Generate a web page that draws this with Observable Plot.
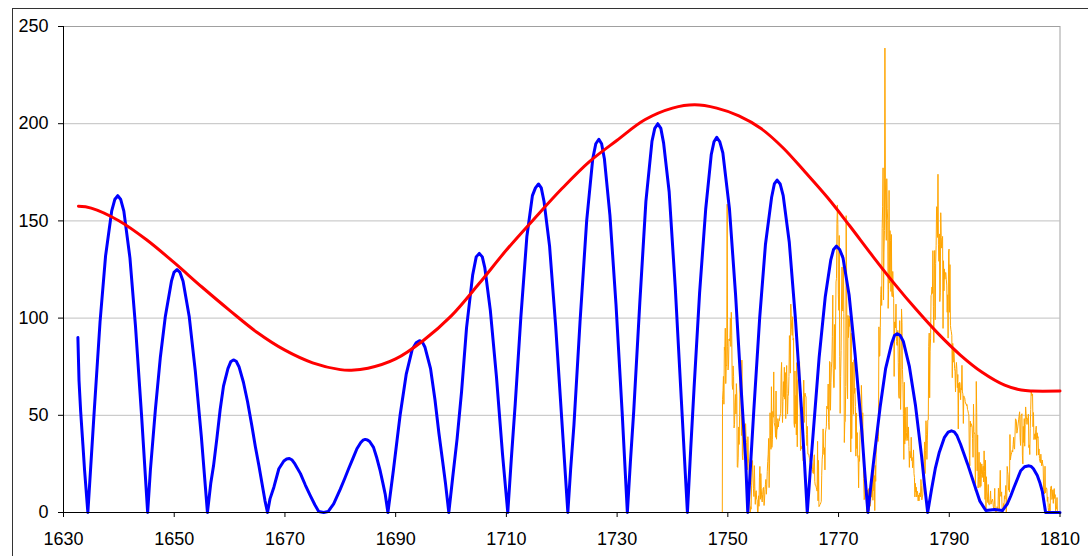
<!DOCTYPE html>
<html><head><meta charset="utf-8">
<script src="https://cdn.jsdelivr.net/npm/d3@7"></script>
<script src="https://cdn.jsdelivr.net/npm/@observablehq/plot@0.6"></script>
<style>
html,body{margin:0;padding:0;background:#fff;overflow:hidden;}
#wrap{position:relative;width:1088px;height:556px;}
#border{position:absolute;left:12px;top:8px;width:1090px;height:560px;border:1px solid #333;box-sizing:border-box;}
#chart{position:absolute;left:0;top:0;}
</style></head><body>
<div id="wrap"><div id="border"></div><div id="chart"></div></div>
<script>
const xTicks = [1630,1650,1670,1690,1710,1730,1750,1770,1790,1810];
const yTicks = [0,50,100,150,200,250];

// blue: rectified cycle curve
const blueYear = [1632.6,1632.8,1633.1,1633.5,1633.8,1634.4,
1635.5,1636.6,1637.6,1638.7,1639.26,1639.8,1640.34,1640.9,1642.0,1643.0,1644.1,1645.2,
1645.7,1646.6,1647.5,1648.4,1649.5,1649.96,1650.5,1651.04,1651.6,1652.7,1653.8,1654.9,1656.0,
1656.6,1657.1,1657.7,1658.3,1658.9,1659.7,1660.2,1660.7,1661.2,1661.7,1662.5,1663.25,1664.0,1664.65,1665.3,1665.85,1666.4,1666.85,
1667.3,1668.0,1668.9,1669.8,1670.3,1670.8,1671.3,1671.8,1672.8,1673.7,1674.6,1675.4,1676.1,1677.0,1677.8,
1678.8,1680.0,1680.8,1681.5,1682.3,1683.0,1683.7,1684.1,1684.5,1684.9,1685.3,1686.0,1686.6,1687.2,1687.7,1688.1,1688.6,
1689.6,1690.8,1691.9,1693.0,1693.7,1694.3,1694.85,1695.3,1696.3,1697.1,1697.8,1698.5,1699.0,1699.6,
1700.3,1701.1,1701.9,1702.8,1703.9,1704.55,1705.1,1705.65,1706.1,1707.1,1708.2,1709.3,1710.25,
1710.9,1711.6,1712.6,1713.7,1714.7,1715.25,1715.8,1716.3,1716.8,1717.8,1718.9,1720.0,1721.1,
1721.6,1722.2,1723.3,1724.5,1725.6,1726.15,1726.7,1727.2,1727.7,1728.7,1729.8,1730.9,1731.85,
1732.4,1733.0,1734.1,1735.2,1736.3,1736.8,1737.35,1737.9,1738.4,1739.4,1740.5,1741.6,1742.7,
1743.3,1743.9,1744.9,1746.0,1747.0,1747.5,1748.0,1748.55,1749.1,1750.3,1751.4,1752.4,1753.2,1753.6,
1754.2,1754.7,1755.75,1756.8,1757.9,1758.4,1758.9,1759.45,1760.0,1761.1,1762.2,1763.3,1763.8,1764.35,
1764.9,1765.45,1766.5,1767.6,1768.6,1769.1,1769.6,1770.2,1770.8,1771.9,1773.0,1774.2,1774.7,1775.3,
1775.8,1776.4,1777.5,1778.5,1779.6,1780.1,1780.6,1781.15,1781.7,1782.8,1783.9,1785.0,1785.5,1786.1,
1786.8,1787.5,1788.2,1789.1,1789.8,1790.4,1790.9,1791.4,1792.05,1793.3,1794.5,1795.5,1796.6,1798.2,1799.6,
1800.5,1801.1,1801.7,1802.9,1803.6,1804.0,1804.4,1804.8,1805.2,1805.9,1806.4,1806.8,1807.4,1810];
const blueValue = [90,68,52,35,22,0,
50,98,132,155,161,163,161,155,131,96,50,0,
22,53,80,101,119,123.5,125,123.5,119,101,73,39,0,
15,24,38,53,65,74,77.5,78.5,77.8,75,67,57,45,34,24,15,6,0,
7,13,22.5,26.5,27.5,27.8,27,25,20,14,8.6,4,0.5,0,0.5,
4.4,12,17.5,22.5,28,32.8,36,37.2,37.6,37.3,36.5,33.5,28,21.5,15,9.6,0,
22,50,71,84,87.3,88.4,87.5,85,74,58,41,26,15,0,
18,38,62,95,122,131.5,133.3,131.5,126,104,70,30,0,
28,56,100,142,163,167,169,167,160,137,96,48,0,
22,45,98,150,182,189.7,192,189.7,182,153,107,52,0,
26,52,108,160,191,197.6,200,197.6,190,165,116,58,0,
33,64,113,156,184,190.7,193,190.7,185,156,112,64,28,0,
29,53,100,138,162,169,171,169,163,139,100,53,28,0,
22,42,80,111,130,135.3,137,135.3,131,112,81,42,22,0,
13,28,54,74,87,91,92,91,88,75,55,29,15,0,
12,23,31,38.5,41.3,42,41.5,39.5,35,25,14.6,6,1,1.5,1,
4.5,8.5,13,21.5,23.5,23.8,24,23.7,22.5,19,15,11,0,0];

// red: smooth envelope
const redYear = [1632.7,1635,1640,1645,1650,1655,1660,1665,1670,1675,1680,1682,1685,1690,1695,1700,1705,1710,1715,1720,1725,1730,1735,1740,1744,1748,1752,1756,1760,1764,1768,1772,1776,1780,1784,1788,1792,1796,1800,1803,1805,1810];
const redValue = [157.5,156.6,150.1,140.3,128.5,116,104,92.6,83.5,77,73.5,73.2,74.2,79,88.5,101,117.5,135,151,166.5,180.5,191.5,202,208,209.7,208,204,197.5,187.5,175,162,147.5,132.5,118,104.5,92,81,72,65.5,63,62.5,62.5];

// orange: monthly sunspot numbers from 1749
const orangeStart = 1749;
const orangeMonthly = [
58.0,62.6,70.0,55.7,85.0,83.5,94.8,66.3,75.9,75.5,158.6,85.2,
73.3,75.9,89.2,88.3,90.0,100.0,85.4,103.0,91.2,65.7,63.3,75.4,
70.0,43.5,45.3,56.4,60.7,50.7,66.3,59.8,23.5,23.2,28.5,44.0,
35.0,50.0,71.0,59.3,59.7,39.6,78.4,29.3,27.1,46.6,37.6,40.0,
44.0,32.0,45.7,38.0,36.0,31.7,22.0,39.0,28.0,25.0,20.0,6.7,
0.0,3.0,1.7,13.7,20.7,26.7,18.8,12.3,8.2,24.1,13.2,4.2,
10.2,11.2,6.8,6.5,0.0,0.0,8.6,3.2,17.8,23.7,6.8,20.0,
12.5,7.1,5.4,9.4,12.5,12.9,3.6,6.4,11.8,14.3,17.0,9.4,
14.1,21.2,26.2,30.0,38.1,12.8,25.0,51.3,39.7,32.5,64.7,33.5,
37.6,52.0,49.0,72.3,46.4,45.0,44.0,38.7,62.5,37.7,43.0,43.0,
48.3,44.0,46.8,47.0,49.0,50.0,51.0,71.3,77.2,59.7,46.3,57.0,
67.3,59.5,74.7,58.3,72.0,48.3,66.0,75.6,61.3,50.6,59.7,61.0,
70.0,91.0,80.7,71.7,107.2,99.3,94.1,91.1,100.7,88.7,89.7,46.0,
43.8,72.8,45.7,60.2,39.9,77.1,33.8,67.7,68.5,69.3,77.8,77.2,
56.5,31.9,34.2,32.9,32.7,35.8,54.2,26.5,68.1,46.3,60.9,61.4,
59.7,59.7,40.2,34.4,44.3,30.0,30.0,30.0,28.2,28.0,26.0,25.7,
24.0,26.0,25.0,22.0,20.2,20.0,27.0,29.7,16.0,14.0,14.0,13.0,
12.0,11.0,36.6,6.0,26.8,3.0,3.3,4.0,4.3,5.0,5.7,19.2,
27.4,30.0,43.0,32.9,29.8,33.3,21.9,40.9,42.7,44.1,54.7,53.3,
53.5,66.1,46.3,42.7,77.7,77.4,52.6,66.8,74.8,77.8,90.6,111.8,
73.9,64.2,64.3,96.7,73.6,94.4,118.6,120.3,148.8,158.2,148.1,112.0,
104.0,142.5,80.1,51.0,70.1,83.3,109.8,126.3,104.4,103.6,132.2,102.3,
36.0,46.2,46.7,64.9,152.7,119.5,67.7,58.5,101.4,90.0,99.7,95.7,
100.9,90.8,31.1,92.2,38.0,57.0,77.3,56.2,50.5,78.6,61.3,64.0,
54.6,29.0,51.2,32.9,41.1,28.4,27.7,12.7,29.3,26.3,40.9,43.2,
46.8,65.4,55.7,43.8,51.3,28.5,17.5,6.6,7.9,14.0,17.7,12.2,
4.4,0.0,11.6,11.2,3.9,12.3,1.0,7.9,3.2,5.6,15.1,7.9,
21.7,11.6,6.3,21.8,11.2,19.0,1.0,24.2,16.0,30.0,35.0,40.0,
45.0,36.5,39.0,95.5,80.3,80.7,95.0,112.0,116.2,106.5,146.0,157.3,
177.3,109.3,134.0,145.0,238.9,171.6,153.0,140.0,171.7,156.3,150.3,105.0,
114.7,165.7,118.0,145.0,140.0,113.7,143.0,112.0,111.0,124.0,114.0,110.0,
70.0,98.0,98.0,95.0,107.2,88.0,86.0,86.0,93.7,77.0,60.0,58.7,
98.7,74.7,53.0,68.3,104.7,97.7,73.5,66.0,51.0,27.3,67.0,35.2,
54.0,37.5,37.0,41.0,54.3,38.0,37.0,44.0,34.0,23.2,31.5,30.0,
28.0,38.7,26.7,28.3,23.0,25.2,32.2,20.0,18.0,8.0,15.0,10.5,
13.0,8.0,11.0,10.0,6.0,9.0,6.0,10.0,10.0,8.0,17.0,14.0,
6.5,8.0,9.0,15.7,20.7,26.3,36.3,20.0,32.0,47.2,40.2,27.3,
37.2,47.6,47.7,85.4,92.3,59.0,83.0,89.7,111.5,112.3,116.0,112.7,
134.7,106.0,87.4,127.2,134.8,99.2,128.0,137.2,157.3,157.0,141.5,174.0,
138.0,129.2,143.3,108.5,113.0,154.2,141.5,136.0,141.0,142.0,94.7,129.5,
114.0,125.3,120.0,123.3,123.5,120.0,117.0,103.0,112.0,89.7,134.0,135.5,
103.0,127.5,96.3,94.0,93.0,91.0,69.3,87.0,77.3,84.3,82.0,74.0,
72.7,62.0,74.0,77.2,73.7,64.2,71.0,43.0,66.5,61.7,67.0,66.0,
58.0,64.0,63.0,75.7,62.0,61.0,45.8,60.0,59.0,59.0,57.0,56.0,
56.0,55.0,55.5,53.0,52.3,51.0,50.0,29.3,24.0,47.0,44.0,45.7,
45.0,44.0,38.0,28.4,55.7,41.5,41.0,40.0,11.1,28.5,67.4,51.4,
21.4,39.9,12.6,18.6,31.0,17.1,12.9,25.7,13.5,19.5,25.0,18.0,
22.0,23.8,15.7,31.7,21.0,6.7,26.9,1.5,18.4,11.0,8.4,5.1,
14.4,4.2,4.0,4.0,7.3,11.1,4.3,6.0,5.7,6.9,5.8,3.0,
2.0,4.0,12.4,1.1,0.0,0.0,0.0,3.0,2.4,1.5,12.5,9.9,
1.6,12.6,21.7,8.4,8.2,10.6,2.1,0.0,0.0,4.6,2.7,8.6,
6.9,9.3,13.9,0.0,5.0,23.7,21.0,19.5,11.5,12.3,10.5,40.1,
27.0,29.0,30.0,31.0,32.0,31.2,35.0,38.7,33.5,32.6,39.8,48.2,
47.8,47.0,40.8,42.0,44.0,46.0,48.0,50.0,51.8,38.5,34.5,50.0,
50.0,50.8,29.5,25.0,44.3,36.0,48.3,34.1,45.3,54.3,51.0,48.0,
45.3,48.3,48.0,50.6,33.4,34.8,29.8,43.1,53.0,62.3,61.0,60.0,
61.0,44.1,51.4,37.5,39.0,40.5,37.6,42.7,44.4,29.4,41.0,38.3,
39.0,29.6,32.7,27.7,26.4,25.6,30.0,26.3,24.0,27.0,25.0,24.0,
12.0,12.2,9.6,23.8,10.0,12.0,12.7,12.0,5.7,8.0,2.6,0.0,
0.0,4.5,0.0,12.3,13.5,13.5,6.7,8.0,11.7,4.7,10.5,12.3,
7.2,9.2,0.9,2.5,2.0,7.7,0.3,0.2,0.4,0.0,0.0,0.0];

const blue = blueYear.map((x, i) => ({x, y: blueValue[i]}));
const red = redYear.map((x, i) => ({x, y: redValue[i]}));
const orange = [{x: orangeStart, y: 0}].concat(orangeMonthly.map((v, i) => ({x: orangeStart + (i + 0.5) / 12, y: v})));

const chart = Plot.plot({
  width: 1088, height: 556,
  marginLeft: 63, marginRight: 28.5, marginTop: 26, marginBottom: 44,
  x: {domain: [1630, 1810], label: null},
  y: {domain: [0, 250], label: null},
  style: {fontFamily: "'Liberation Sans', Arial, sans-serif", fontSize: "18px", color: "#000", background: "transparent", overflow: "visible"},
  marks: [
    Plot.gridY(yTicks.filter(d => d > 0), {stroke: "#c0c0c0", strokeOpacity: 1, strokeWidth: 1}),
    Plot.frame({stroke: "#a0a0a0"}),
    Plot.line(orange, {x: "x", y: "y", stroke: "#ffa500", strokeWidth: 1}),
    Plot.line(blue, {x: "x", y: "y", stroke: "#0000ff", strokeWidth: 3}),
    Plot.line(red, {x: "x", y: "y", stroke: "#ff0000", strokeWidth: 3, curve: "catmull-rom"}),
    Plot.ruleY([0], {stroke: "#000"}),
    Plot.ruleX([1630], {stroke: "#000"}),
    Plot.axisY({ticks: yTicks, tickSize: 5, tickPadding: 10, fontSize: 18, tickFormat: d => String(d)}),
    Plot.axisX({ticks: xTicks, tickSize: 5, tickPadding: 15, fontSize: 18, tickFormat: d => String(d)})
  ]
});
document.getElementById("chart").appendChild(chart);
</script>
</body></html>
